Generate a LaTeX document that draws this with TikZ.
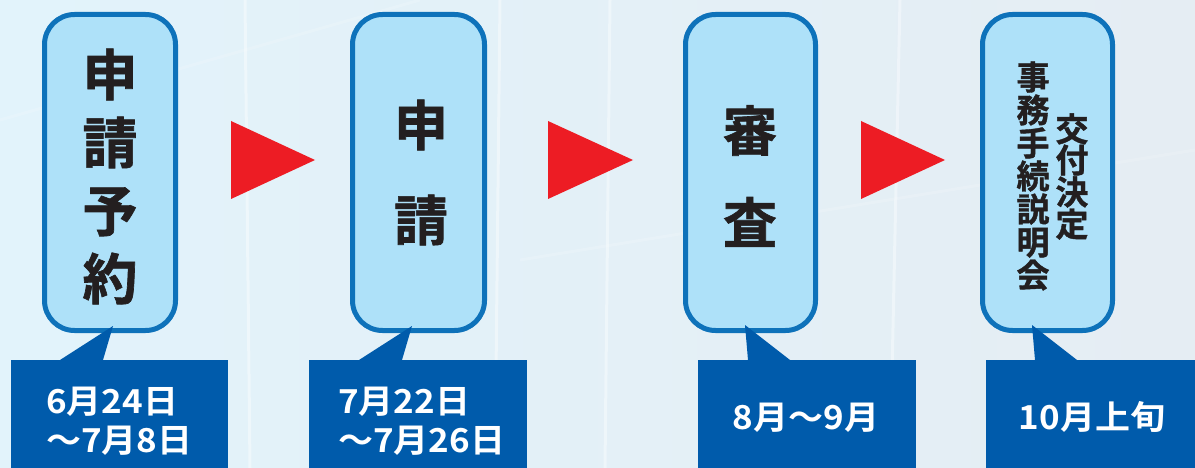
\documentclass[tikz,border=0pt]{standalone}
\usepackage{fontspec}
\newfontfamily\jp{Noto Sans CJK JP}[BoldFont={Noto Sans CJK JP Bold}, BoldFeatures={FakeBold=1.2}]
\newfontfamily\jpdate{Noto Sans CJK JP}[BoldFont={Noto Sans CJK JP Bold}, BoldFeatures={FakeStretch=1.06}]
\definecolor{bgL}{HTML}{E2F3FB}
\definecolor{bgR}{HTML}{E5EDF3}
\definecolor{boxfill}{HTML}{AEE1F9}
\definecolor{boxline}{HTML}{0E72BA}
\definecolor{datebg}{HTML}{005BAB}
\definecolor{arrowred}{HTML}{ED1C24}
\definecolor{ink}{HTML}{231F20}
\tikzset{
  stepbox/.style={draw=boxline, line width=5pt, fill=boxfill, rounded corners=30pt, inner sep=0pt},
  datebox/.style={fill=datebg, draw=none, inner sep=0pt},
  bigtext/.style={text=ink, align=center, inner sep=0pt, font=\jp\bfseries},
  datetext/.style={text=white, align=left, inner sep=0pt, font=\jpdate\bfseries\fontsize{33}{39}\selectfont},
  redarrow/.style={fill=arrowred, draw=none},
  streak/.style={draw=white, opacity=0.4, line width=3pt}
}
\begin{document}
\begin{tikzpicture}[x=1pt, y=-1pt]
\useasboundingbox (0,0) rectangle (1195,468);
\shade[left color=bgL, right color=bgR] (0,0) rectangle (1195,468);
% faint background streaks
\draw[streak] (245,0) -- (250,468);
\draw[streak] (500,0) -- (495,468);
\draw[streak] (610,0) -- (605,468);
\draw[streak] (900,0) -- (890,468);
\draw[streak, opacity=0.15] (0,120) -- (420,0);
\draw[streak, opacity=0.15] (520,260) -- (1195,150);

% step boxes
\node[stepbox, minimum width=131pt, minimum height=316pt] (b1) at (110,172.5) {};
\node[stepbox, minimum width=132pt, minimum height=316pt] (b2) at (418.5,172.5) {};
\node[stepbox, minimum width=130pt, minimum height=316pt] (b3) at (750.5,172.5) {};
\node[stepbox, minimum width=130pt, minimum height=316pt] (b4) at (1047.5,172.5) {};

% texts in boxes
\node[bigtext, font=\jp\bfseries\fontsize{55}{68}\selectfont] (t1) at (110,176.5) {申\\請\\予\\約};
\node[bigtext, font=\jp\bfseries\fontsize{54}{95}\selectfont] (t2) at (421,172.5) {申\\請};
\node[bigtext, font=\jp\bfseries\fontsize{54}{92}\selectfont] (t3) at (750,176) {審\\査};
\node[bigtext, font=\jp\bfseries\fontsize{33}{33}\selectfont] (t4a) at (1033,176) {事\\務\\手\\続\\説\\明\\会};
\node[bigtext, font=\jp\bfseries\fontsize{33}{31}\selectfont] (t4b) at (1072,176.5) {交\\付\\決\\定};

% red arrows
\path (231,121) coordinate (r1a) (315,160) coordinate (r1b) (231,199) coordinate (r1c);
\fill[redarrow] (r1a) -- (r1b) -- (r1c) -- cycle;
\path (548,121) coordinate (r2a) (633,160) coordinate (r2b) (548,199) coordinate (r2c);
\fill[redarrow] (r2a) -- (r2b) -- (r2c) -- cycle;
\path (861,121) coordinate (r3a) (945,160) coordinate (r3b) (861,199) coordinate (r3c);
\fill[redarrow] (r3a) -- (r3b) -- (r3c) -- cycle;

% date boxes
\node[datebox, minimum width=217pt, minimum height=110pt, anchor=north west] (d1) at (11,360) {};
\node[datebox, minimum width=218pt, minimum height=110pt, anchor=north west] (d2) at (309,360) {};
\node[datebox, minimum width=218pt, minimum height=110pt, anchor=north west] (d3) at (698,360) {};
\node[datebox, minimum width=215pt, minimum height=110pt, anchor=north west] (d4) at (986,360) {};

% tails
\coordinate (p1) at (113,326);
\coordinate (p2) at (412,326);
\coordinate (p3) at (745,325);
\coordinate (p4) at (1032,325);
\fill[datebg] ([xshift=49pt]d1.north west) -- (p1) -- ([xshift=92pt]d1.north west) -- cycle;
\fill[datebg] ([xshift=50pt]d2.north west) -- (p2) -- ([xshift=93pt]d2.north west) -- cycle;
\fill[datebg] ([xshift=50pt]d3.north west) -- (p3) -- ([xshift=92pt]d3.north west) -- cycle;
\fill[datebg] ([xshift=49pt]d4.north west) -- (p4) -- ([xshift=91pt]d4.north west) -- cycle;

% date texts
\node[datetext, anchor=west] (dt1) at (46,421) {6月24日\\〜7月8日};
\node[datetext, anchor=west] (dt2) at (338,421) {7月22日\\〜7月26日};
\node[datetext] (dt3) at (806,418) {8月〜9月};
\node[datetext] (dt4) at (1092,417) {10月上旬};
\end{tikzpicture}
\end{document}
